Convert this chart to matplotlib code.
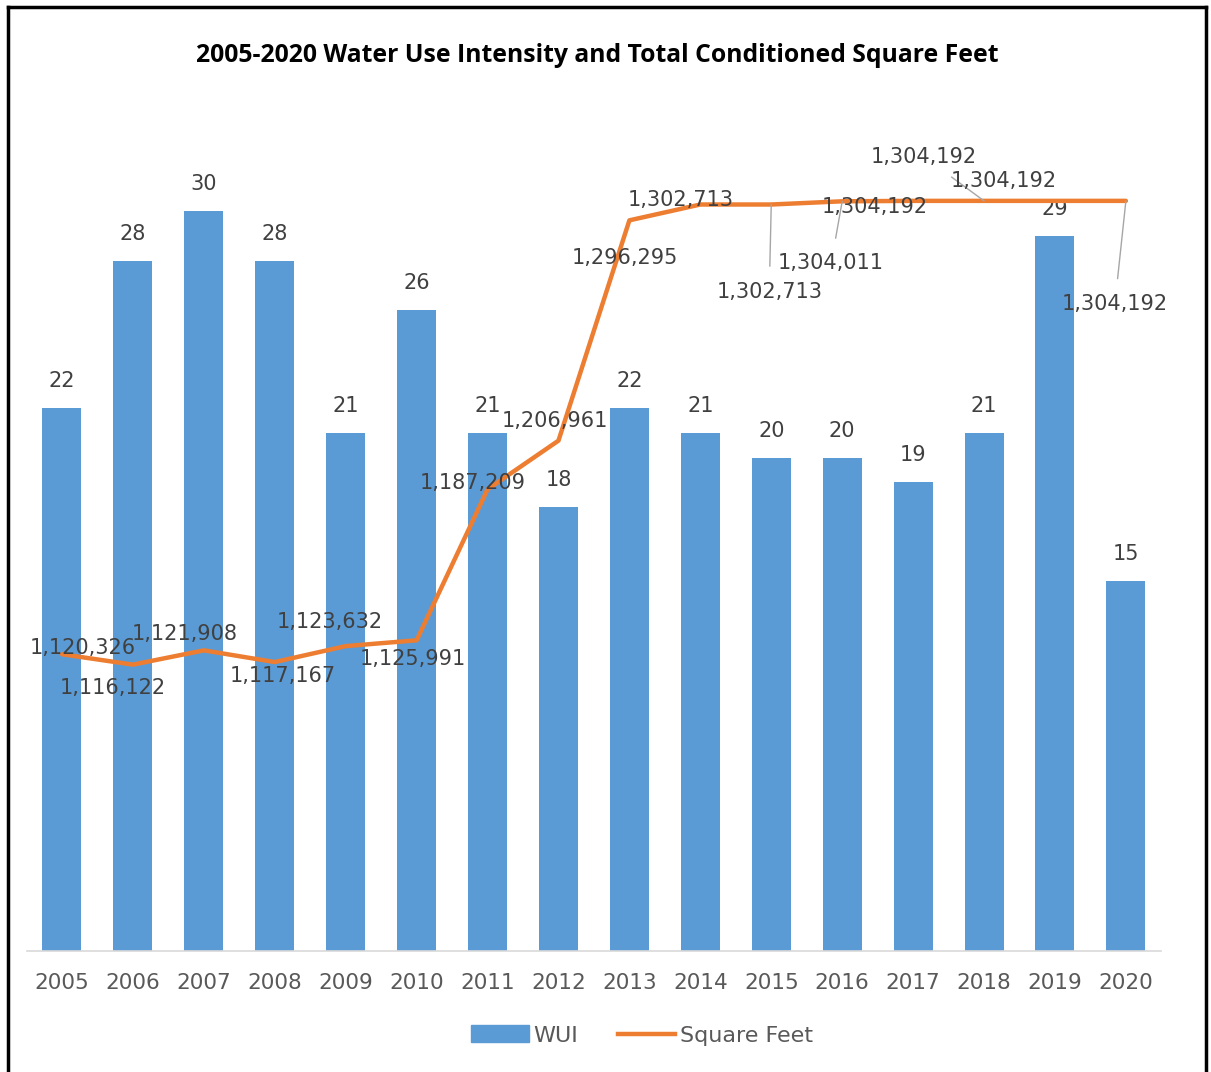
import numpy as np
import matplotlib.pyplot as plt
from matplotlib.lines import Line2D

years = ["2005", "2006", "2007", "2008", "2009", "2010", "2011", "2012",
         "2013", "2014", "2015", "2016", "2017", "2018", "2019", "2020"]
wui = [22, 28, 30, 28, 21, 26, 21, 18, 22, 21, 20, 20, 19, 21, 29, 15]
sqft = [1120326, 1116122, 1121908, 1117167, 1123632, 1125991, 1187209, 1206961,
        1296295, 1302713, 1302713, 1304011, 1304192, 1304192, 1304192, 1304192]

# label offsets for the line labels (pixels), and whether a leader line is drawn
sq_off = [(21, 6), (-20, -23), (-19, 16), (8, -14), (-16, 24), (-4, -19), (-15, 6), (-4, 20),
          (-5, -38), (-20, 5), (-2, -87), (-11, -62), (-38, -6), (-60, 44), (-51, 20), (-11, -103)]
leader = [False] * 10 + [True, True, False, True, False, True]

blue = '#5B9BD5'
orange = '#ED7D31'
gray = '#404040'

fig = plt.figure(figsize=(12.11, 10.72), dpi=100)
ax = fig.add_axes([0.0219, 0.1129, 0.9371, 0.8051])
ax2 = ax.twinx()

x = np.arange(len(years))
bars = ax.bar(x, wui, width=0.55, color=blue, zorder=2)
ax.set_ylim(0, 35)
ax.set_xlim(-0.5, len(years) - 0.5)
ax.set_xticks(x)
ax.set_xticklabels(years, fontsize=15.5, color='#595959')
ax.tick_params(axis='x', length=0, pad=16)
ax.set_yticks([])
for s in ['top', 'right', 'left']:
    ax.spines[s].set_visible(False)
ax.spines['bottom'].set_color('#D9D9D9')
ax.spines['bottom'].set_linewidth(1.2)

for xi, v in zip(x, wui):
    ax.annotate(str(v), (xi, v), xytext=(0, 27), textcoords='offset pixels',
                ha='center', va='center', fontsize=15, color=gray)

line, = ax2.plot(x, sqft, color=orange, lw=3.2, solid_capstyle='round', zorder=3)
ax2.set_ylim(1000000, 1350000)
ax2.set_yticks([])
for s in ax2.spines.values():
    s.set_visible(False)

for xi, v, off, ld in zip(x, sqft, sq_off, leader):
    props = dict(arrowstyle='-', color='#A6A6A6', lw=1, shrinkA=9, shrinkB=0) if ld else None
    ax2.annotate(f"{v:,}", (xi, v), xytext=off, textcoords='offset pixels',
                 ha='center', va='center', fontsize=15, color=gray,
                 arrowprops=props, zorder=4)

fig.text(0.493, 0.948, "2005-2020 Water Use Intensity and Total Conditioned Square Feet",
         ha='center', va='center', fontsize=17.8, fontweight='bold', family='Open Sans')

handles = [plt.Rectangle((0, 0), 1, 1, color=blue), Line2D([], [], color=orange, lw=3.2)]
fig.legend(handles, ["WUI", "Square Feet"], loc='center', bbox_to_anchor=(0.53, 0.034),
           ncol=2, frameon=False, fontsize=16, labelcolor='#595959',
           handlelength=2.6, handleheight=0.8, columnspacing=1.8, handletextpad=0.2)

# border
for xs, ys in [([0.007, 0.007], [0, 0.9935]), ([0.007, 0.9955], [0.9935, 0.9935]),
               ([0.9955, 0.9955], [0, 0.9935])]:
    fig.add_artist(Line2D(xs, ys, color='black', lw=2.5, transform=fig.transFigure))

fig.savefig('out.png', dpi=100)
